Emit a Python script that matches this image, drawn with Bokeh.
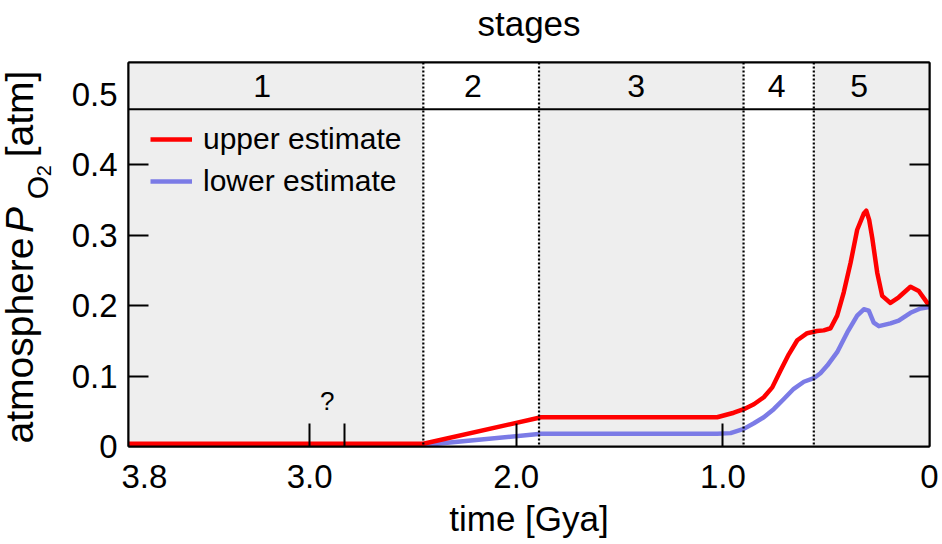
import math
from bokeh.plotting import figure
from bokeh.layouts import row
from bokeh.models import FixedTicker, LinearAxis, Span, Legend, LegendItem, Range1d
from bokeh.core.properties import value
from bokeh.embed import file_html
from bokeh.resources import INLINE

FONT = "Liberation Sans"

# ---- data -------------------------------------------------------------
stage_names = ["1", "2", "3", "4", "5"]
stage_bounds = [3.877, 2.45, 1.89, 0.90, 0.56, 0.0]   # Gya
stage_label_x = [3.23, 2.21, 1.42, 0.74, 0.34]
stage_fill = ["#eeeeee", "#ffffff", "#eeeeee", "#ffffff", "#eeeeee"]
header_bottom = 0.479
y_top = 0.5456

upper_t = [3.877, 2.45, 1.88, 1.108, 1.028, 0.947, 0.899, 0.850, 0.802, 0.761,
           0.721, 0.681, 0.640, 0.592, 0.544, 0.512, 0.479, 0.447, 0.415, 0.382,
           0.350, 0.318, 0.306, 0.292, 0.277, 0.253, 0.229, 0.189, 0.149, 0.092,
           0.052, 0.011, 0.0]
upper_p = [0.004, 0.004, 0.0415, 0.0415, 0.0415, 0.048, 0.053, 0.060, 0.070, 0.084,
           0.108, 0.131, 0.151, 0.161, 0.164, 0.165, 0.168, 0.186, 0.219, 0.261,
           0.308, 0.331, 0.335, 0.322, 0.296, 0.247, 0.214, 0.204, 0.212, 0.227,
           0.221, 0.204, 0.201]

lower_t = [3.877, 2.45, 1.88, 1.028, 0.963, 0.899, 0.850, 0.802, 0.754, 0.705,
           0.657, 0.608, 0.560, 0.528, 0.495, 0.447, 0.398, 0.350, 0.318, 0.294,
           0.270, 0.245, 0.189, 0.149, 0.092, 0.044, 0.0]
lower_p = [0.002, 0.002, 0.018, 0.018, 0.019, 0.025, 0.033, 0.0415, 0.053, 0.0675,
           0.082, 0.092, 0.097, 0.104, 0.115, 0.134, 0.162, 0.186, 0.195, 0.193,
           0.176, 0.171, 0.175, 0.179, 0.190, 0.196, 0.198]

x_ticks = [3.8, 3.0, 2.0, 1.0, 0.0]
x_tick_labels = ["3.8", "3.0", "2.0", "1.0", "0"]
event_ticks = [3.0, 2.83, 2.0, 1.0]
question_x = [2.915]
question_y = [0.065]
y_ticks = [0.0, 0.1, 0.2, 0.3, 0.4, 0.5]
y_tick_labels = ["0", "0.1", "0.2", "0.3", "0.4", "0.5"]
y_minor = [0.1, 0.2, 0.3, 0.4]

UPPER_COLOR = "#ff0000"
LOWER_COLOR = "#7b7be6"

W, H = 942, 544
LW = 64            # width of the y-label strip
TOP, BOTTOM = 61, 98

# ---- main figure --------------------------------------------------------
p = figure(width=W - LW, height=H, x_range=Range1d(stage_bounds[0], stage_bounds[-1]),
           y_range=Range1d(0, y_top), output_backend="svg", toolbar_location=None,
           x_axis_type=None, y_axis_type=None,
           min_border_left=128 - LW, min_border_right=13,
           min_border_top=TOP, min_border_bottom=BOTTOM)
p.outline_line_color = "black"
p.outline_line_width = 2
p.background_fill_color = "white"
p.border_fill_color = "white"

p.quad(left=stage_bounds[:-1], right=stage_bounds[1:], bottom=0, top=y_top,
       fill_color=stage_fill, line_color=None)

for b in stage_bounds[1:-1]:
    p.add_layout(Span(location=b, dimension="height", line_color="black",
                      line_width=2.2, line_dash="2 2"))
p.add_layout(Span(location=header_bottom, dimension="width", line_color="black", line_width=2))

p.text(x=stage_label_x, y=[(header_bottom + y_top) / 2] * 5, text=stage_names,
       text_font=value(FONT), text_font_size="32px", text_align="center",
       text_baseline="middle", text_color="black")

p.text(x=question_x, y=question_y, text=["?"], text_font=value(FONT), text_font_size="26px",
       text_align="center", text_baseline="middle", text_color="black")

r_low = p.line(lower_t, lower_p, line_color=LOWER_COLOR, line_width=4.5, line_join="round")
r_up = p.line(upper_t, upper_p, line_color=UPPER_COLOR, line_width=4.5, line_join="round")

legend = Legend(items=[LegendItem(label="upper estimate", renderers=[r_up]),
                       LegendItem(label="lower estimate", renderers=[r_low])],
                location=(22, 248), padding=0, margin=0, spacing=8,
                glyph_width=42, glyph_height=34, label_height=34, label_standoff=11,
                label_text_font=FONT, label_text_font_size="30px", label_text_color="black",
                border_line_color=None, background_fill_alpha=0)
p.add_layout(legend, "center")

xaxis = LinearAxis(ticker=FixedTicker(ticks=x_ticks, minor_ticks=event_ticks),
                   major_label_overrides=dict(zip(x_ticks, x_tick_labels)),
                   major_tick_line_color=None, major_tick_in=0, major_tick_out=0,
                   minor_tick_in=23, minor_tick_out=0,
                   minor_tick_line_color="black", minor_tick_line_width=2,
                   axis_line_width=2, axis_line_color="black",
                   major_label_text_font=FONT, major_label_text_font_size="33px",
                   major_label_text_color="black", major_label_standoff=18,
                   axis_label="time [Gya]", axis_label_text_font=FONT,
                   axis_label_text_font_size="35px", axis_label_text_font_style="normal",
                   axis_label_text_color="black", axis_label_standoff=8)
p.add_layout(xaxis, "below")

yaxis = LinearAxis(ticker=FixedTicker(ticks=y_ticks, minor_ticks=y_minor),
                   major_label_overrides=dict(zip(y_ticks, y_tick_labels)),
                   major_tick_line_color=None, major_tick_in=0, major_tick_out=0,
                   minor_tick_in=20, minor_tick_out=0,
                   minor_tick_line_color="black", minor_tick_line_width=2,
                   axis_line_width=2, axis_line_color="black",
                   major_label_text_font=FONT, major_label_text_font_size="33px",
                   major_label_text_color="black", major_label_standoff=11)
p.add_layout(yaxis, "left")

raxis = LinearAxis(ticker=FixedTicker(ticks=[], minor_ticks=y_minor),
                   major_tick_line_color=None, major_tick_in=0, major_tick_out=0,
                   minor_tick_in=20, minor_tick_out=0,
                   minor_tick_line_color="black", minor_tick_line_width=2,
                   axis_line_width=2, axis_line_color="black", major_label_standoff=0)
p.add_layout(raxis, "right")

taxis = LinearAxis(ticker=FixedTicker(ticks=[]), major_tick_line_color=None,
                   major_tick_in=0, major_tick_out=0,
                   axis_line_width=2, axis_line_color="black", major_label_standoff=0,
                   axis_label="stages", axis_label_text_font=FONT,
                   axis_label_text_font_size="35px", axis_label_text_font_style="normal",
                   axis_label_text_color="black", axis_label_standoff=20)
p.add_layout(taxis, "above")

# ---- y-axis title strip (italic P with subscripts) ---------------------
# its frame has the same vertical borders as the main plot; data y = pixels from the bottom
q = figure(width=LW, height=H, x_range=Range1d(0, LW), y_range=Range1d(BOTTOM, H - TOP),
           output_backend="svg", toolbar_location=None, x_axis_type=None, y_axis_type=None,
           min_border_left=0, min_border_right=0, min_border_top=TOP, min_border_bottom=BOTTOM)
q.outline_line_color = None
q.background_fill_color = "white"
q.border_fill_color = "white"

ylabel_text = ["atmosphere", "P", "O", "2", "[atm]"]
ylabel_x = [19, 19, 37, 43, 19]
ylabel_y = [H - 443, H - 232, H - 198, H - 175, H - 156]
ylabel_size = ["39px", "39px", "30px", "20px", "39px"]
ylabel_style = ["normal", "italic", "normal", "normal", "normal"]
for t, lx, ly, fs, st in zip(ylabel_text, ylabel_x, ylabel_y, ylabel_size, ylabel_style):
    q.text(x=[lx], y=[ly], text=[t], angle=math.pi / 2, text_font=value(FONT),
           text_font_size=fs, text_font_style=st, text_color="black",
           text_align="left", text_baseline="alphabetic")

layout = row(q, p, spacing=0)
open("out.html", "w").write(file_html(layout, INLINE))
